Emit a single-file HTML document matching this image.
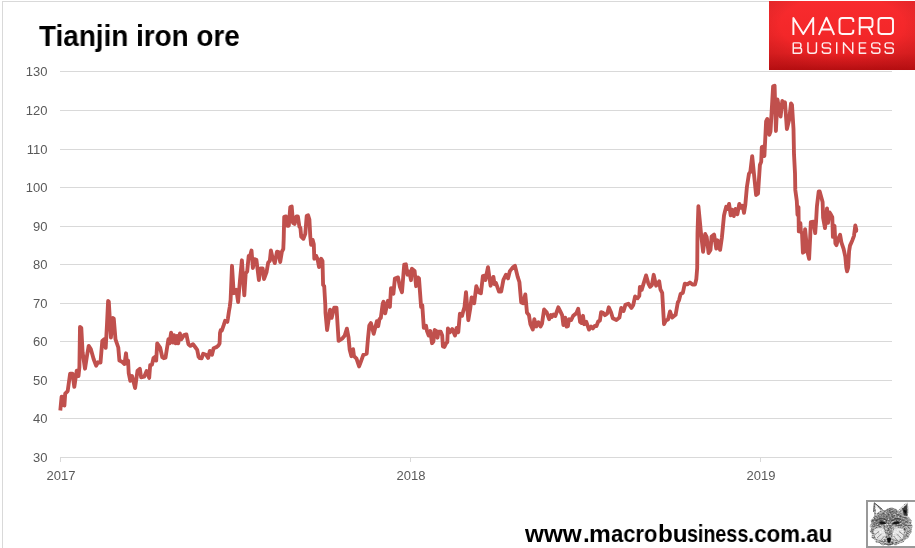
<!DOCTYPE html>
<html><head><meta charset="utf-8">
<style>
html,body{margin:0;padding:0;background:#fff;overflow:hidden;}
body{width:915px;height:548px;overflow:hidden;position:relative;font-family:"Liberation Sans",sans-serif;}
.ylab,.xlab,#title,#site{will-change:transform;}
#chart{position:absolute;left:0;top:0;width:915px;height:548px;}
.ylab{position:absolute;left:0;width:47.4px;text-align:right;font-size:13px;line-height:14px;height:14px;color:#595959;}
.xlab{position:absolute;top:469px;width:60px;text-align:center;font-size:13px;line-height:14px;height:14px;color:#595959;}
#title{position:absolute;left:39px;top:19px;transform:scaleX(0.961);font-weight:bold;font-size:29px;line-height:34px;color:#000;white-space:nowrap;transform-origin:0 0;}
#site span{position:absolute;top:0;transform-origin:0 0;will-change:transform;}
#site{position:absolute;left:525px;top:519px;font-weight:bold;font-size:24.3px;line-height:29px;color:#000;white-space:nowrap;transform-origin:0 0;}
</style></head>
<body>
<svg id="chart" width="915" height="548" viewBox="0 0 915 548">
  <defs>
    <linearGradient id="lg2" x1="0" y1="0" x2="0" y2="1">
      <stop offset="0" stop-color="#f82b2e"/>
      <stop offset="0.5" stop-color="#f32729"/>
      <stop offset="0.76" stop-color="#e92123"/>
      <stop offset="0.92" stop-color="#d4171a"/>
      <stop offset="1" stop-color="#c61013"/>
    </linearGradient>
    <radialGradient id="lg3" cx="0.5" cy="0.35" r="0.7">
      <stop offset="0" stop-color="#000" stop-opacity="0"/>
      <stop offset="0.6" stop-color="#000" stop-opacity="0"/>
      <stop offset="1" stop-color="#500" stop-opacity="0.16"/>
    </radialGradient>
  </defs>
  <!-- outer border -->
  <rect x="2" y="1" width="1" height="547" fill="#d9d9d9"/>
  <rect x="2" y="1" width="913" height="1" fill="#d9d9d9"/>
  <!-- gridlines -->
  <g fill="#d9d9d9" shape-rendering="crispEdges">
    <rect x="60" y="71" width="832" height="1"/>
    <rect x="60" y="110" width="832" height="1"/>
    <rect x="60" y="149" width="832" height="1"/>
    <rect x="60" y="187" width="832" height="1"/>
    <rect x="60" y="226" width="832" height="1"/>
    <rect x="60" y="264" width="832" height="1"/>
    <rect x="60" y="303" width="832" height="1"/>
    <rect x="60" y="341" width="832" height="1"/>
    <rect x="60" y="380" width="832" height="1"/>
    <rect x="60" y="418" width="832" height="1"/>
    <rect x="60" y="457" width="832" height="1"/>
  </g>
  <!-- ticks -->
  <g fill="#d9d9d9">
    <rect x="60" y="457" width="1" height="5"/>
    <rect x="410" y="457" width="1" height="5"/>
    <rect x="760" y="457" width="1" height="5"/>
  </g>
  <!-- series -->
  <polyline fill="none" stroke="#c0504d" stroke-width="3.85" stroke-linejoin="round" stroke-linecap="butt" points="60.3,410.5 61.6,396.6 63.2,397.2 64.4,405.6 65.2,393.6 67.7,391.1 70.1,373.7 72.5,373.7 74.3,386.9 76.7,370.7 78.5,376.1 79.4,367 80.0,327 81.3,327.8 82.6,352.4 85,368.7 87,355.7 88.7,345.9 90.8,349.1 93.6,359 96.1,365.7 98,362.3 100.5,362.5 102.3,340.9 104,339.3 105.7,347.8 107.0,324 108.1,301 108.8,301.5 110.9,337.6 112.8,317.9 113.8,318.8 115.5,339.3 118.3,347.5 119.4,360.6 122.4,362 124.5,364 126,353.3 127,363.9 128.1,360.6 128.7,373 130.3,380.9 132.1,376.1 135.1,388.1 137.5,370.7 139.9,368.9 141.1,377.3 144.2,376.7 146.6,371 149.2,377.9 150.2,365.2 152,364.6 153.5,358 155.5,356.5 156.2,360.6 157.2,343.4 160.1,347.5 162.3,357.2 163.8,358.2 165.5,357.7 168.4,339.3 169.5,343.4 171.1,332.7 173,342.6 174.1,335.2 175.7,343.4 176.9,336 178.2,343.4 179.9,333.5 181.2,339.3 184,335.2 186.4,334.4 188.4,344.2 190.5,345.9 193,344.2 195.5,347.5 197.2,349.8 198.6,356.8 199.8,358.2 201.6,358.4 203.2,353.7 206,354.8 208.1,358 209.8,350.9 212,354.8 213.6,348.2 216.4,347.1 218.5,345.5 219.6,343.3 220,332.9 220.7,330.1 221.8,330.7 223.7,325.2 225.1,320.8 227.3,321.9 227.9,318.6 229,311 229.8,306.6 230.6,300 232,265.8 233.7,293.2 236.4,289.9 238.1,302 239.9,281.1 241.9,260.3 244.3,295.4 245.7,273.5 247.2,271.3 248.7,256 249.8,257 251.5,250.5 252.9,268 254.5,259.2 256.4,259.8 258.9,280 260.5,268.5 262.7,268.5 264,279 266.5,272.4 268.2,262.5 269.8,260.9 270.9,250.5 272.4,257 273.4,259.2 274.8,263.1 277,251.6 278.6,252.1 280.2,262 281.9,251.6 283.3,249 283.7,238.8 284.2,216.9 285.9,216.4 287.3,225.7 288.8,225.7 290.3,207 291.7,206.5 293,222.9 294.6,224 296.3,216.4 297.9,216.4 299.4,226.8 300.4,227.9 301.2,236.6 303.4,238.8 305.3,233.9 306.7,215.8 308.1,215.3 309.4,219.6 310.3,236.6 311.1,244.8 312.7,239.9 313.8,244.3 314.3,258.7 316.1,255.7 317.6,259.3 319,267 321.2,258.8 322.5,261 323.1,285 324.2,286.1 325.3,304.8 325.5,312.8 327.1,330 330.1,309.6 331.6,317.9 334.2,307.7 336.5,307.7 338.6,340.9 342.5,338.3 344.6,335.8 346.9,328.7 348.5,337 349.7,349.8 351.4,356.2 353.1,349.2 354,356.2 356.5,358.7 359.1,366.4 361,361.3 363.3,354.9 366.7,353.6 368,338.3 369.3,325.5 370.9,323 373.7,333.8 376.9,321.1 378.2,326.2 379.5,319.2 380.8,317.9 382.7,303.8 383.5,301.8 385.2,313.4 387.9,300.8 389.9,307 391,288.1 392,288.3 393.4,293.8 394.9,278.5 398,277.4 399.9,286.8 402,292.2 404.2,264.7 405.9,264.3 407.5,274.7 409.2,271.4 411,280.2 411.9,268.7 414.6,270.9 416.1,286.2 417.9,277.5 419,278.5 421.1,307 422.3,305.4 423.8,327.9 426,325.7 427,331.1 428.7,335.5 430.3,331.1 432,343.2 433.4,341.5 434.7,330 436.4,331.1 437.5,337.7 438.5,331.7 440.7,331.7 442.2,335.5 442.9,346.5 444.4,347 446.2,343.2 447.3,342.1 447.9,328.4 450,332.2 452.2,329 455,335.5 456.6,327.9 458.3,332.2 459.9,313.6 462.1,315.8 463.2,311.4 464.5,307 466,292.2 468.3,320.2 470.3,308.1 471.6,297.4 474.2,303.2 476.3,286.2 478.7,292.2 480.9,293.3 482.9,276 484.6,275.5 485.4,280 488,267.2 490.6,285.7 493.4,276.9 494.6,284.2 495.8,282.7 499,291.5 501.2,291.5 503.4,279.8 506,274.7 508,278.4 509.9,271.1 512.8,267.4 515,265.9 517.7,276.9 519.4,282 521.2,302.4 523.1,303.2 525.3,294.4 527,312.7 528.9,314.9 530.4,324.3 532.8,329.5 534.3,319.2 536.2,326.5 538.4,322.2 540.6,326.5 542,323.6 544.1,309.5 546.8,312.6 549.1,319.2 551,315 551.9,316.9 553.5,314.6 555.3,316 558.3,307.3 560.7,312.2 562.2,315.4 563.4,325 565.2,317.6 566.6,326.6 567.9,326.2 569.1,319.2 571.2,320 573.2,315.7 576.2,313.4 578.2,308.8 580.1,322 581.4,323 583,315.8 584.2,324.2 586.3,321.8 589,329.6 591.1,326.6 592.9,328.4 594.7,326 596.5,326 598.3,321.2 599.9,320.6 601.1,312.2 603.1,312.8 604.9,315.2 607.3,313.4 608.8,307.3 611,312.2 612.8,318.2 616.4,320 619.4,317.6 621.2,308 623.6,311 625.4,304.9 628.4,303.7 631.4,308 633.3,304.9 635.1,296.5 637.5,298.3 639.3,295.9 639.9,286.9 641.7,289.9 643.5,283.9 646.1,275.4 648.3,283.3 650.1,286.9 651.9,285.1 653.7,274.8 656.1,285.7 659.2,281.4 660.4,289.3 662.2,292.9 664,324.2 665.8,320.6 668,319.6 670,311.4 672.2,317.6 675.6,314.8 677.8,302.5 679,300.3 680.6,294 682.9,292.7 684.8,283.7 687.4,284.4 689.9,282.5 692.5,284.6 695,284.6 696.3,279.3 697.2,267.8 697.5,233.3 698.4,206.2 701,233.3 703.1,251.8 705.2,234 706.7,237.1 708.6,253.1 710.5,249.9 711.6,236.5 714.1,234.6 716.3,248.6 717.6,240.3 720.1,249.9 721.9,237.5 724.0,215.5 725.0,211.2 726.2,206.8 727.4,209 729.1,203.9 730.7,215.4 732,209.7 733.8,216.1 735.4,209 737.4,214.2 739.3,203.9 741.2,207.8 742.7,205.9 744,212.9 745.3,205 746.9,187 748.3,178 749,173.6 750.3,172 752.2,156.1 756.1,195 758,193.7 759.9,165 761.2,161.8 761.8,147.1 763.4,146.5 764.4,156 766.1,121.4 767.3,118.9 769.3,134.8 770.5,131.6 772.1,103.5 773.1,86.3 774.6,85.7 775.9,131 777.5,99.5 780.6,116.5 782.3,101 783.6,104.5 785,102.3 786.9,129.1 789.1,120.1 791,103.5 792,104.8 793.5,129.1 794,154.2 795,173.3 795.3,189.9 796.8,201 797.5,215 798.5,207.2 798.8,231.4 800.4,223.2 800.9,232 802,233 802.9,252.7 804,252 805.1,229.2 806.4,242.4 807.5,252 809.1,258.8 810.2,236.9 810.8,222.1 813.5,221.6 815.2,233.1 816.1,221 816.9,206.5 818.7,191.4 819.7,191.4 822.6,201.9 823.1,217.7 825,228.1 827,208.5 828,222.9 829.6,212.4 830.9,214.6 832.3,217.2 832.9,236.9 833.8,225.4 834.5,226 835.4,243.4 836.5,245.1 838.1,239.1 840.1,234.7 841.4,242.4 843.6,248.9 845.3,256.6 846.3,267.5 847.1,271.3 848.2,267.5 849.1,251.1 850,245.6 852.4,240.2 854,235.8 855.3,225.4 856.3,229.8 856.0,231.6"/>
  <circle cx="856.0" cy="231.2" r="1.8" fill="#c0504d"/>
  <!-- logo -->
  <rect x="769" y="1" width="146" height="69" fill="url(#lg2)"/>
  <rect x="769" y="1" width="146" height="69" fill="url(#lg3)"/>
  <g fill="none" stroke="#fff" stroke-opacity="0.96" stroke-width="1.95" stroke-linejoin="round" stroke-linecap="butt">
    <path d="M793.4,34.9 V17.9 L803.3,34.1 L813.2,17.9 V34.9"/>
    <path d="M818.8,34.9 L826.5,17.7 L834.2,34.9 M821.4,29.4 H831.6"/>
    <path d="M853.3,21.9 V20.5 Q853.3,17.9 850.7,17.9 H842.1 Q839.5,17.9 839.5,20.5 V31.3 Q839.5,33.9 842.1,33.9 H850.7 Q853.3,33.9 853.3,31.3 V29.8"/>
    <path d="M859.7,34.9 V17.9 H869.9 Q872.5,17.9 872.5,20.5 V24.7 Q872.5,27.3 869.9,27.3 H859.7 M868.4,27.3 L872.5,34.9"/>
    <rect x="878.5" y="17.9" width="14.5" height="16" rx="2.8" ry="2.8"/>
  </g>
  <g fill="none" stroke="#fff" stroke-opacity="0.92" stroke-width="1.45" stroke-linejoin="round" stroke-linecap="butt">
    <path d="M793.25,42.85 V53.15 H799.6 Q801.55,53.15 801.55,51.2 V49.9 Q801.55,48 799.6,48 H793.25 M799.2,48 Q800.9,48 800.9,46.2 V44.7 Q800.9,42.85 799.1,42.85 H793.25"/>
    <path d="M807.95,42.2 V50.7 Q807.95,53.15 810.4,53.15 H814 Q816.45,53.15 816.45,50.7 V42.2"/>
    <path d="M830.45,45.3 V44.8 Q830.45,42.85 828.5,42.85 H824.3 Q822.35,42.85 822.35,44.8 V46.05 Q822.35,48 824.3,48 H828.5 Q830.45,48 830.45,49.95 V51.2 Q830.45,53.15 828.5,53.15 H824.3 Q822.35,53.15 822.35,51.2 V50.7"/>
    <path d="M836.7,42.2 V53.8"/>
    <path d="M843.55,53.8 V42.7 L852.75,53.3 V42.2"/>
    <path d="M866.3,42.85 H859.45 V53.15 H866.3 M859.45,48 H865.6"/>
    <path transform="translate(49.4 0)" d="M830.45,45.3 V44.8 Q830.45,42.85 828.5,42.85 H824.3 Q822.35,42.85 822.35,44.8 V46.05 Q822.35,48 824.3,48 H828.5 Q830.45,48 830.45,49.95 V51.2 Q830.45,53.15 828.5,53.15 H824.3 Q822.35,53.15 822.35,51.2 V50.7"/>
    <path transform="translate(62.8 0)" d="M830.45,45.3 V44.8 Q830.45,42.85 828.5,42.85 H824.3 Q822.35,42.85 822.35,44.8 V46.05 Q822.35,48 824.3,48 H828.5 Q830.45,48 830.45,49.95 V51.2 Q830.45,53.15 828.5,53.15 H824.3 Q822.35,53.15 822.35,51.2 V50.7"/>
  </g>

  <!-- fox -->
  <defs>
    <filter id="fur" x="-0.05" y="-0.05" width="1.1" height="1.1" color-interpolation-filters="sRGB">
      <feTurbulence type="fractalNoise" baseFrequency="0.5 0.75" numOctaves="2" seed="7" result="n"/>
      <feColorMatrix in="n" type="matrix" values="0 0 0 0 0  0 0 0 0 0  0 0 0 0 0  2.2 0 0 0 -0.92" result="a"/>
      <feFlood flood-color="#383838" result="f"/>
      <feComposite in="f" in2="a" operator="in" result="dots"/>
      <feComposite in="dots" in2="SourceAlpha" operator="in" result="dd"/>
      <feTurbulence type="fractalNoise" baseFrequency="0.6 0.7" numOctaves="2" seed="23" result="n2"/>
      <feColorMatrix in="n2" type="matrix" values="0 0 0 0 0  0 0 0 0 0  0 0 0 0 0  0 2.2 0 0 -1.02" result="a2"/>
      <feFlood flood-color="#ffffff" result="f2"/>
      <feComposite in="f2" in2="a2" operator="in" result="w"/>
      <feComposite in="w" in2="SourceAlpha" operator="in" result="ww"/>
      <feMerge result="m"><feMergeNode in="SourceGraphic"/><feMergeNode in="ww"/><feMergeNode in="dd"/></feMerge>
      <feGaussianBlur in="m" stdDeviation="0.55"/>
    </filter>
    <filter id="soft" x="-0.1" y="-0.1" width="1.2" height="1.2"><feGaussianBlur stdDeviation="0.5"/></filter>
    <clipPath id="foxclip"><rect x="868" y="502" width="47" height="44"/></clipPath>
  </defs>
  <rect x="867" y="501" width="49" height="46" fill="#fff" stroke="#999" stroke-width="2"/>
  <g clip-path="url(#foxclip)">
    <g filter="url(#fur)">
      <path fill="#b2b2b2" d="M874.3,502.8 L878.5,506 L882.5,509.5 L885,511 L888,508.2 L891.5,507.6 L895,508.4 L898,510.8 L901,507.5 L904.5,504.3 L907.4,502.6 L908.2,507 L908.3,512 L907.8,516 L910,518.5 L911.8,521 L911,523.5 L912.8,526 L911.5,529 L912,532 L909.5,534.5 L909,537.5 L905.5,539.5 L903,542.5 L899,543.5 L896,545.5 L892,544.5 L889,546 L886,544.5 L882.5,545.5 L879.5,543 L876,542.5 L874.5,539.5 L871.5,537.5 L872,534 L870,531.5 L871.2,528.5 L869.5,526 L871.5,523 L870.5,520.5 L873,518 L874.5,515 L873.6,511 L873.8,506.5 Z"/>
      <!-- darker mask band across eyes and forehead -->
      <path fill="#808080" d="M873,519 L879,516 L884,511 L888,508.5 L892,508 L896,509.5 L900,515 L906,518 L909,522 L903,526 L896,525.5 L892,522 L886,522 L882,525.5 L875,526 L871,523 Z"/>
      <path fill="#8e8e8e" d="M887,520 L891.6,520 L891.8,536 L889.3,540 L886.8,536 Z"/>
    </g>
    <g filter="url(#soft)">
      <!-- ear interiors -->
      <path d="M875.3,505 L880.8,510.2 L876.2,514 Z" fill="#fafafa"/>
      <path d="M874.3,502.8 L882.5,509.5 M874.3,502.8 L873.7,512" stroke="#333" stroke-width="0.8" fill="none"/>
      <path d="M906.8,504.4 L902.3,509 L904,515.5 L907.3,516 Z" fill="#3a3a3a"/>
      <path d="M903.4,509.8 L905.2,514 L906.6,510.8 Z" fill="#0a0a0a"/>
      <path d="M907.4,502.6 L900,509.5" stroke="#eee" stroke-width="0.9" fill="none"/>
      <!-- white cheeks -->
      <path d="M873.5,530 Q877,526.8 883.8,528.8 Q886,533 885.5,538.5 Q880,541.5 875.5,538 Z" fill="#fff" fill-opacity="0.72"/>
      <path d="M904.5,530 Q901,526.8 894.2,528.8 Q892,533 892.5,538.5 Q898,541.5 902.5,538 Z" fill="#fff" fill-opacity="0.72"/>
      <g stroke="#3c3c3c" stroke-width="0.7" fill="none" stroke-opacity="0.75">
        <path d="M875,534.5 L879,531.5 M877,538 L881.5,534 M880.5,540.5 L884.5,536 M903,534.5 L899,531.5 M901,538 L896.5,534 M897.5,540.5 L893.5,536"/>
        <path d="M871.5,525 L875.5,527 M871.5,529 L874.5,530 M906.5,525 L902.5,527 M906.5,529 L903.5,530 M909,531 L906,533 M869.8,531 L873,533"/>
      </g>
      <!-- eyes -->
      <path d="M879.4,521.8 Q883,520.4 886.6,523.6 Q883.3,524.9 879.4,523.4 Z" fill="#161616"/>
      <path d="M899.2,521.8 Q895.6,520.4 892,523.6 Q895.3,524.9 899.2,523.4 Z" fill="#161616"/>
      <path d="M877.5,519.5 Q883,517.2 887.3,521 M901,519.5 Q895.6,517.2 891.3,521" stroke="#3a3a3a" stroke-width="0.9" fill="none"/>
      <!-- nose -->
      <path d="M886.8,538.4 Q889,537.2 891.2,538.4 L890.2,542.3 Q889,543.3 887.8,542.3 Z" fill="#0c0c0c"/>
      <path d="M884.5,543.6 Q887,545 889,544.2 Q891,545 893.5,543.6" stroke="#333" stroke-width="0.8" fill="none"/>
    </g>
  </g>

</svg>
<div class="ylab" style="top:64.5px">130</div>
<div class="ylab" style="top:103.5px">120</div>
<div class="ylab" style="top:142.5px">110</div>
<div class="ylab" style="top:180.5px">100</div>
<div class="ylab" style="top:219.5px">90</div>
<div class="ylab" style="top:257.5px">80</div>
<div class="ylab" style="top:296.5px">70</div>
<div class="ylab" style="top:334.5px">60</div>
<div class="ylab" style="top:373.5px">50</div>
<div class="ylab" style="top:411.5px">40</div>
<div class="ylab" style="top:450.5px">30</div>
<div class="xlab" style="left:30.5px">2017</div>
<div class="xlab" style="left:381px">2018</div>
<div class="xlab" style="left:731px">2019</div>
<div id="title">Tianjin iron ore</div>
<div id="site"><span style="left:0.4px;transform:scaleX(1.0018)">www</span><span style="left:57.75px;transform:scaleX(0.95)">.</span><span style="left:64.29px;transform:scaleX(1.0105)">m</span><span style="left:86.1px;transform:scaleX(0.904)">acro</span><span style="left:132.81px;transform:scaleX(0.9889)">bu</span><span style="left:162.09px;transform:scaleX(0.8095)">siness</span><span style="left:223.38px;transform:scaleX(0.9185)">.com</span><span style="left:275.08px;transform:scaleX(0.9212)">.au</span></div>
</body></html>
